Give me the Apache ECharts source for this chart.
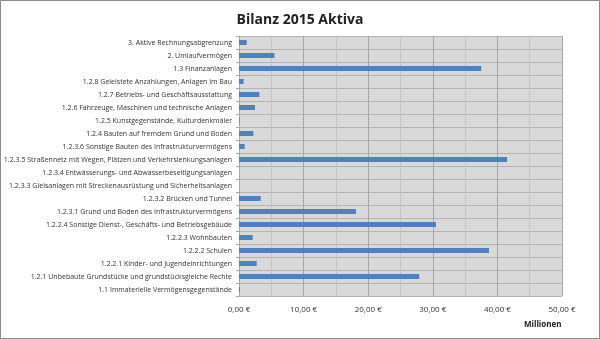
<!DOCTYPE html>
<html>
<head>
<meta charset="utf-8">
<script src="https://cdn.jsdelivr.net/npm/echarts@6/dist/echarts.min.js"></script>
<style>
  html, body { margin: 0; padding: 0; background: #fff; }
  #chart { width: 600px; height: 339px; }
</style>
</head>
<body>
<div id="chart"></div>
<script>
// Balance sheet assets 2015, values in millions of euros (bottom to top)
const categories = [
  '1.1 Immaterielle Vermögensgegenstände',
  '1.2.1 Unbebaute Grundstücke und grundstücksgleiche Rechte',
  '1.2.2.1 Kinder- und Jugendeinrichtungen',
  '1.2.2.2 Schulen',
  '1.2.2.3 Wohnbauten',
  '1.2.2.4 Sonstige Dienst-, Geschäfts- und Betriebsgebäude',
  '1.2.3.1 Grund und Boden des Infrastrukturvermögens',
  '1.2.3.2 Brücken und Tunnel',
  '1.2.3.3 Gleisanlagen mit Streckenausrüstung und Sicherheitsanlagen',
  '1.2.3.4 Entwässerungs- und Abwasserbeseitigungsanlagen',
  '1.2.3.5 Straßennetz mit Wegen, Plätzen und Verkehrslenkungsanlagen',
  '1.2.3.6 Sonstige Bauten des Infrastrukturvermögens',
  '1.2.4 Bauten auf fremdem Grund und Boden',
  '1.2.5 Kunstgegenstände, Kulturdenkmäler',
  '1.2.6 Fahrzeuge, Maschinen und technische Anlagen',
  '1.2.7 Betriebs- und Geschäftsausstattung',
  '1.2.8 Geleistete Anzahlungen, Anlagen im Bau',
  '1.3 Finanzanlagen',
  '2. Umlaufvermögen',
  '3. Aktive Rechnungsabgrenzung'
];
const values = [
  0.15, 27.9, 2.74, 38.7, 2.12, 30.5, 18.1, 3.36, 0, 0,
  41.5, 0.88, 2.22, 0.1, 2.48, 3.15, 0.72, 37.5, 5.48, 1.19
];
const axisMin = 0;
const axisMax = 50;
const axisStep = 10;

const chart = echarts.init(document.getElementById('chart'), null, { renderer: 'canvas' });
const font = 'Open Sans, Noto Sans, sans-serif';

chart.setOption({
  backgroundColor: '#ffffff',
  animation: false,
  title: {
    text: 'Bilanz 2015 Aktiva',
    left: 'center',
    top: 8,
    textStyle: { fontFamily: font, fontSize: 14, fontWeight: 'bold', color: '#222' }
  },
  graphic: [{
    type: 'rect',
    shape: { x: 0.5, y: 0.5, width: 599, height: 338 },
    style: { fill: 'none', stroke: '#8c8c8c', lineWidth: 1 },
    silent: true
  }, {
    type: 'text',
    left: 524,
    top: 321,
    style: { text: 'Millionen', fontFamily: font, fontSize: 8, fontWeight: 'bold', fill: '#222' }
  }],
  grid: {
    left: 239, right: 38, top: 36, bottom: 43,
    show: true, backgroundColor: '#d9d9d9', borderWidth: 0
  },
  xAxis: {
    type: 'value',
    min: axisMin, max: axisMax, interval: axisStep,
    axisLine: { show: false },
    axisTick: { show: false },
    axisLabel: {
      fontFamily: font, fontSize: 8, color: '#333', margin: 10,
      formatter: v => v.toFixed(2).replace('.', ',') + ' €'
    },
    splitLine: { show: true, lineStyle: { color: '#a6a6a6', width: 1 } },
    minorTick: { show: false, splitNumber: 2 },
    minorSplitLine: { show: true, lineStyle: { color: '#c4c4c4', width: 1 } }
  },
  yAxis: {
    type: 'category',
    data: categories,
    axisLine: { show: true, lineStyle: { color: '#a6a6a6' } },
    axisTick: { show: true, length: 3, lineStyle: { color: '#a6a6a6' } },
    axisLabel: { fontFamily: font, fontSize: 7, color: '#333', margin: 7 },
    splitLine: { show: true, lineStyle: { color: '#b3b3b3', width: 1 } }
  },
  series: [{
    type: 'bar',
    data: values,
    barWidth: 5,
    itemStyle: { color: '#4f81bd' }
  }]
});
</script>
</body>
</html>
